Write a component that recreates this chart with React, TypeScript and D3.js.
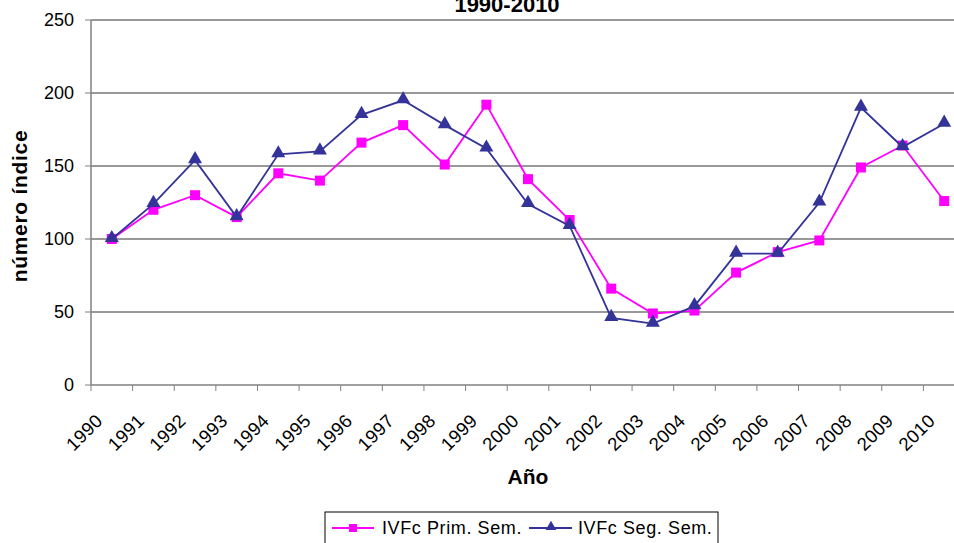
import React from "react";
import * as d3 from "d3";

// years on the x axis
const years = [
  "1990", "1991", "1992", "1993", "1994", "1995", "1996", "1997", "1998", "1999", "2000",
  "2001", "2002", "2003", "2004", "2005", "2006", "2007", "2008", "2009", "2010",
];

// IVFc first semester (pink squares)
const primSem = [100, 120, 130, 115, 145, 140, 166, 178, 151, 192, 141, 113, 66, 49, 51, 77, 91, 99, 149, 164, 126];

// IVFc second semester (blue triangles)
const segSem = [100, 124, 154, 115, 158, 160, 185, 195, 178, 162, 124, 109, 46, 42, 54, 90, 90, 125, 190, 163, 179];

const yTicks = [0, 50, 100, 150, 200, 250];

const W = 954;
const H = 543;
const FONT = "'Liberation Sans', Arial, sans-serif";
const PINK = "#FF00FF";
const NAVY = "#333399";

export default function App() {
  const margin = { top: 20, left: 91, bottom: 385 };
  const plotRight = 965;

  const x = d3.scaleBand().domain(years).range([margin.left, plotRight]).padding(0);
  const y = d3.scaleLinear().domain([0, 250]).range([margin.bottom, margin.top]);
  const cx = (d: string) => (x(d) as number) + x.bandwidth() / 2;

  const line = d3
    .line<number>()
    .x((_, i) => cx(years[i]))
    .y((v) => y(v));

  const sq = 10;
  const tri = d3.symbol().type(d3.symbolTriangle).size(85)();

  return (
    <svg
      width={W}
      height={H}
      style={{ position: "absolute", left: 0, top: 0, background: "#fff" }}
      fontFamily={FONT}
    >
      {/* title, cut at the top of the frame */}
      <text x={507} y={12} textAnchor="middle" fontSize={22} fontWeight="bold">
        1990-2010
      </text>

      {/* gridlines */}
      {yTicks.slice(1).map((t) => (
        <line key={t} x1={margin.left} x2={plotRight} y1={y(t)} y2={y(t)} stroke="#333" strokeWidth={1} />
      ))}

      {/* y axis */}
      <line x1={margin.left} x2={margin.left} y1={y(250)} y2={y(0)} stroke="#808080" strokeWidth={1.5} />
      {yTicks.map((t) => (
        <g key={t}>
          <line x1={margin.left - 6} x2={margin.left} y1={y(t)} y2={y(t)} stroke="#808080" />
          <text x={74} y={y(t)} dy="0.35em" textAnchor="end" fontSize={18}>
            {t}
          </text>
        </g>
      ))}

      {/* x axis */}
      <line x1={margin.left} x2={plotRight} y1={y(0)} y2={y(0)} stroke="#808080" strokeWidth={1.5} />
      {years.map((yr) => (
        <g key={yr}>
          <line x1={x(yr)} x2={x(yr)} y1={y(0)} y2={y(0) + 6} stroke="#808080" />
          <text
            transform={`translate(${cx(yr) - 8},${y(0) + 37}) rotate(-45)`}
            textAnchor="end"
            fontSize={18.5}
            letterSpacing={0.3}
          >
            {yr}
          </text>
        </g>
      ))}

      {/* axis titles */}
      <text x={528} y={484} textAnchor="middle" fontSize={21} fontWeight="bold">
        Año
      </text>
      <text
        transform={`translate(27,206) rotate(-90)`}
        textAnchor="middle"
        fontSize={21}
        fontWeight="bold"
        letterSpacing={0.7}
      >
        número índice
      </text>

      {/* series */}
      <path d={line(primSem) ?? ""} fill="none" stroke={PINK} strokeWidth={1.8} />
      {primSem.map((v, i) => (
        <rect key={i} x={cx(years[i]) - sq / 2} y={y(v) - sq / 2} width={sq} height={sq} fill={PINK} />
      ))}
      <path d={line(segSem) ?? ""} fill="none" stroke={NAVY} strokeWidth={1.8} />
      {segSem.map((v, i) => (
        <path key={i} d={tri ?? ""} transform={`translate(${cx(years[i])},${y(v) - 1})`} fill={NAVY} />
      ))}

      {/* legend */}
      <rect x={325} y={512} width={393} height={40} fill="#fff" stroke="#000" strokeWidth={1} />
      <line x1={332} x2={374} y1={528} y2={528} stroke={PINK} strokeWidth={1.8} />
      <rect x={349} y={524} width={8} height={8} fill={PINK} />
      <text x={382} y={528} dy="0.35em" fontSize={18} letterSpacing={0.6}>
        IVFc Prim. Sem.
      </text>
      <line x1={529} x2={572} y1={528} y2={528} stroke={NAVY} strokeWidth={1.8} />
      <path d={d3.symbol().type(d3.symbolTriangle).size(50)() ?? ""} transform="translate(551,527)" fill={NAVY} />
      <text x={578} y={528} dy="0.35em" fontSize={18} letterSpacing={0.6}>
        IVFc Seg. Sem.
      </text>
    </svg>
  );
}
